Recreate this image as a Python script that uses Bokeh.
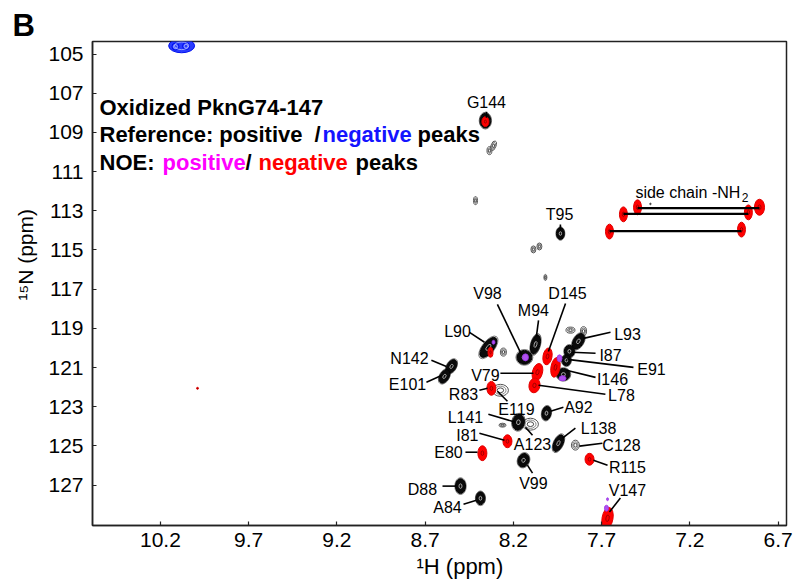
import numpy as np
from bokeh.plotting import figure
from bokeh.models import Range1d, FixedTicker, Label, ColumnDataSource, Title
from bokeh.embed import file_html
from bokeh.resources import INLINE
from bokeh.core.properties import value

FONT = "Liberation Sans"

# ---------------- axes -----------------
x_ticks = [10.2, 9.7, 9.2, 8.7, 8.2, 7.7, 7.2, 6.7]
y_ticks = [105, 107, 109, 111, 113, 115, 117, 119, 121, 123, 125, 127]

# ---------------- reference spectrum: strong positive peaks (black) ----------
pos_names = ["T95", "G144", "L90", "V98", "M94", "L93", "I87", "E91", "I146",
             "N142", "E101", "A92", "L141", "L138", "V99", "D88", "A84"]
pos_H = [7.934, 8.359, 8.342, 8.138, 8.075, 7.832, 7.883, 7.900, 7.917,
         8.551, 8.591, 8.013, 8.172, 7.945, 8.143, 8.500, 8.387]
pos_N = [114.16, 108.40, 119.97, 120.48, 119.82, 119.66, 120.17, 120.63, 121.35,
         120.94, 121.45, 123.33, 123.79, 124.86, 125.73, 127.05, 127.67]
pos_wH = [0.045, 0.062, 0.062, 0.085, 0.051, 0.057, 0.057, 0.051, 0.074,
          0.051, 0.051, 0.051, 0.068, 0.051, 0.062, 0.057, 0.051]
pos_wN = [0.61, 0.76, 1.22, 0.71, 1.02, 0.87, 0.61, 0.56, 0.61,
          0.76, 0.76, 0.71, 0.82, 0.92, 0.71, 0.76, 0.66]
pos_tilt = [0, 0, -38, 0, -15, -30, 0, 0, 0,
            -30, -30, -10, -10, -25, -20, 0, 0]

# ---------------- reference spectrum: weak positive peaks (grey contours) ----
weak_H = [8.274, 8.104, 7.849, 8.313, 8.336, 8.415, 8.087, 8.053, 8.019,
          8.257, 7.877, 7.803, 8.262, 7.424]
weak_N = [122.16, 123.89, 124.96, 109.68, 109.93, 112.48, 114.97, 114.82, 116.40,
          120.21, 119.09, 119.14, 123.94, 112.65]
weak_wH = [0.091, 0.091, 0.045, 0.028, 0.028, 0.023, 0.028, 0.028, 0.017,
           0.034, 0.051, 0.034, 0.040, 0.008]
weak_wN = [0.61, 0.61, 0.51, 0.51, 0.41, 0.41, 0.36, 0.36, 0.31,
           0.41, 0.31, 0.46, 0.20, 0.08]
weak_tilt = [0, 0, 0, -20, 0, 0, 0, 0, 0, 0, 0, 0, 0, 0]

# ---------------- reference spectrum: negative peaks (blue) ------------------
ref_neg_H = [10.080, 10.115, 10.055]
ref_neg_N = [104.58, 104.62, 104.60]
ref_neg_wH = [0.147, 0.040, 0.040]
ref_neg_wN = [0.71, 0.36, 0.36]

# ---------------- NOE spectrum: negative peaks (red) -------------------------
noe_neg_H = [8.359, 8.007, 8.064, 8.081, 7.962, 8.330, 8.325, 8.234, 8.376,
             7.769, 7.667, 7.497, 6.806, 7.577, 6.869, 7.656, 6.908, 9.990]
noe_neg_N = [108.45, 120.43, 121.24, 121.91, 120.99, 120.22, 122.06, 124.76, 125.37,
             125.68, 128.69, 112.82, 112.82, 113.18, 113.08, 114.06, 113.96, 122.06]
noe_neg_wH = [0.040, 0.051, 0.057, 0.062, 0.051, 0.028, 0.051, 0.051, 0.051,
              0.051, 0.062, 0.045, 0.057, 0.045, 0.045, 0.045, 0.045, 0.011]
noe_neg_wN = [0.51, 0.87, 0.92, 0.76, 1.02, 0.51, 0.71, 0.66, 0.76,
              0.61, 1.12, 0.76, 0.82, 0.76, 0.76, 0.76, 0.76, 0.10]
noe_neg_tilt = [0, -10, -15, -10, -10, 0, 0, 0, 0,
                0, -10, 0, 0, 0, 0, 0, 0, 0]

# ---------------- NOE spectrum: positive peaks (magenta) ---------------------
noe_pos_H = [8.132, 8.313, 7.939, 7.922, 7.673, 7.667]
noe_pos_N = [120.48, 119.71, 120.53, 121.55, 128.18, 127.72]
noe_pos_wH = [0.034, 0.017, 0.028, 0.040, 0.023, 0.011]
noe_pos_wN = [0.36, 0.20, 0.36, 0.26, 0.31, 0.15]

# ---------------- side-chain NH2 pairs ---------------------------------------
sc_H1 = [7.497, 7.577, 7.656]
sc_H2 = [6.806, 6.869, 6.908]
sc_N = [112.86, 113.16, 114.04]

# ---------------- assignment labels ------------------------------------------
lab_text = ["G144", "T95", "V98", "M94", "D145", "L90", "N142", "E101", "V79",
            "R83", "E119", "L78", "L93", "I87", "E91", "I146", "A92", "L141",
            "A123", "I81", "E80", "L138", "C128", "R115", "V99", "D88", "A84", "V147"]
lab_H = [8.353, 7.939, 8.347, 8.087, 7.894, 8.517, 8.789, 8.800, 8.359,
         8.483, 8.183, 7.588, 7.554, 7.650, 7.418, 7.639, 7.832, 8.472,
         8.092, 8.461, 8.568, 7.718, 7.588, 7.554, 8.087, 8.716, 8.574, 7.554]
lab_N = [107.48, 113.19, 117.21, 118.08, 117.21, 119.14, 120.53, 121.85, 121.39,
         122.36, 123.13, 122.41, 119.30, 120.37, 121.09, 121.60, 123.03, 123.54,
         124.92, 124.46, 125.32, 124.09, 124.96, 126.08, 126.90, 127.20, 128.12, 127.25]
lead_H0 = [8.353, 7.934, 8.291, 8.058, 7.905, 8.449, 8.665, 8.693, 8.274,
           8.393, 8.234, 7.679, 7.650, 7.735, 7.520, 7.735, 7.917, 8.342,
           8.092, 8.393, 8.472, 7.849, 7.696, 7.667, 8.092, 8.602, 8.483, 7.594]
lead_N0 = [107.94, 113.70, 117.78, 118.59, 117.73, 119.20, 120.63, 121.75, 121.29,
           122.16, 122.72, 122.36, 119.20, 120.27, 120.99, 121.50, 123.03, 123.38,
           124.45, 124.35, 125.32, 124.09, 124.86, 125.98, 126.39, 127.05, 127.97, 127.66]
lead_H1 = [8.353, 7.934, 8.155, 8.070, 8.002, 8.364, 8.580, 8.608, 8.087,
           8.347, 8.291, 8.058, 7.803, 7.871, 7.894, 7.900, 7.990, 8.189,
           8.132, 8.251, 8.404, 7.922, 7.826, 7.747, 8.121, 8.523, 8.410, 7.656]
lead_N1 = [108.25, 114.00, 120.33, 119.41, 120.18, 119.71, 120.94, 121.40, 121.29,
           122.06, 122.21, 121.90, 119.51, 120.22, 120.58, 121.14, 123.23, 123.79,
           124.05, 124.71, 125.32, 124.60, 125.01, 125.73, 125.98, 127.05, 127.77, 128.37]

# =============================================================================
p = figure(width=797, height=587, title=None,
           x_range=Range1d(10.585, 6.653), y_range=Range1d(129.06, 104.36),
           output_backend="svg", toolbar_location=None,
           min_border_left=92, min_border_right=11, min_border_top=41, min_border_bottom=62)
p.grid.visible = False
p.background_fill_color = "white"
p.border_fill_color = "white"
p.outline_line_color = "#222222"
p.outline_line_width = 1.5

p.xaxis.ticker = FixedTicker(ticks=x_ticks)
p.yaxis.ticker = FixedTicker(ticks=y_ticks)
for ax in (p.xaxis[0], p.yaxis[0]):
    ax.major_tick_in = 4
    ax.major_tick_out = 0
    ax.minor_tick_line_color = None
    ax.major_tick_line_color = "#222222"
    ax.major_tick_line_width = 1.2
    ax.axis_line_color = "#222222"
    ax.axis_line_width = 1.5
    ax.major_label_text_font = FONT
    ax.major_label_text_font_size = "21px"
    ax.major_label_text_color = "black"
p.xaxis.major_label_standoff = 7
p.yaxis.major_label_standoff = 9

# axis titles and panel letter as titles (so they sit outside the frame)
p.add_layout(Title(text="¹H (ppm)", align="left", offset=324, text_font=FONT,
                   text_font_size="22px", text_font_style="normal", text_color="black",
                   standoff=5), "below")
p.add_layout(Title(text="¹⁵N (ppm)", align="left", offset=225, text_font=FONT,
                   text_font_size="21px", text_font_style="normal", text_color="black",
                   standoff=18), "left")
p.add_layout(Title(text="B", align="left", offset=-80, text_font=FONT,
                   text_font_size="31px", text_font_style="bold", text_color="black",
                   standoff=-3), "above")


def ell(H, N, wH, wN, tilt=None, scale=1.0, **kw):
    if tilt is None:
        tilt = [0] * len(H)
    src = ColumnDataSource(dict(x=H, y=N, w=[w * scale for w in wH],
                                h=[h * scale for h in wN], a=tilt))
    p.ellipse(x="x", y="y", width="w", height="h", angle="a", angle_units="deg",
              source=src, **kw)


# blue negative reference peak (folded)
ell(ref_neg_H, ref_neg_N, ref_neg_wH, ref_neg_wN, scale=1.0,
    fill_color="#2a3cff", line_color="#0010ee", line_width=1)
ell(ref_neg_H, ref_neg_N, ref_neg_wH, ref_neg_wN, scale=0.55,
    fill_color=None, line_color="#b8c0ff", line_width=0.8)

# weak grey contour peaks
ell(weak_H, weak_N, weak_wH, weak_wN, weak_tilt, scale=1.0,
    fill_color=None, line_color="#555555", line_width=1.0)
ell(weak_H, weak_N, weak_wH, weak_wN, weak_tilt, scale=0.7,
    fill_color=None, line_color="#777777", line_width=0.9)
ell(weak_H, weak_N, weak_wH, weak_wN, weak_tilt, scale=0.4,
    fill_color=None, line_color="#333333", line_width=0.9)

# strong black reference peaks with a grey outer contour
ell(pos_H, pos_N, pos_wH, pos_wN, pos_tilt, scale=1.13,
    fill_color=None, line_color="#666666", line_width=0.9)
ell(pos_H, pos_N, pos_wH, pos_wN, pos_tilt, scale=1.0,
    fill_color="#0a0a0a", line_color="black", line_width=1)
ell(pos_H, pos_N, pos_wH, pos_wN, pos_tilt, scale=0.3,
    fill_color=None, line_color="#cccccc", line_width=0.8)

# NOE negative peaks (red)
ell(noe_neg_H, noe_neg_N, noe_neg_wH, noe_neg_wN, noe_neg_tilt, scale=1.0,
    fill_color="#ff0000", line_color="#e00000", line_width=1)
ell(noe_neg_H, noe_neg_N, noe_neg_wH, noe_neg_wN, noe_neg_tilt, scale=0.3,
    fill_color=None, line_color="#7a0000", line_width=0.7)

# NOE positive peaks (magenta)
ell(noe_pos_H, noe_pos_N, noe_pos_wH, noe_pos_wN, scale=1.0,
    fill_color="#b050f0", line_color="#9a33e6", line_width=0.8)

# side-chain NH2 connecting lines
p.segment(x0=sc_H1, y0=sc_N, x1=sc_H2, y1=sc_N, line_color="black", line_width=2.2)

# leader lines + assignment labels
p.segment(x0=lead_H0, y0=lead_N0, x1=lead_H1, y1=lead_N1, line_color="black", line_width=1.6)
p.text(x=lab_H, y=lab_N, text=lab_text, text_font=value(FONT), text_font_size="16px",
       text_align="center", text_baseline="middle", text_color="black")

# side chain annotation
p.text(x=[7.509], y=[112.07], text=["side chain -NH"], text_font=value(FONT),
       text_font_size="16px", text_align="left", text_baseline="alphabetic", text_color="black")
p.text(x=[6.906], y=[112.32], text=["2"], text_font=value(FONT),
       text_font_size="12px", text_align="left", text_baseline="alphabetic", text_color="black")


def lab(x, y, text, size, color="black", bold=False):
    p.add_layout(Label(x=x, y=y, x_units="screen", y_units="screen", text=text,
                       text_font=FONT, text_font_size=size, text_color=color,
                       text_font_style="bold" if bold else "normal",
                       text_align="left", text_baseline="alphabetic"))


# header text (frame-relative screen coords)
lab(7, 418, "Oxidized PknG74-147", "22px", bold=True)
lab(7, 391, "Reference: positive", "22px", bold=True)
lab(222, 391, "/", "22px", bold=True)
lab(230, 391, "negative", "22px", color="#1414ff", bold=True)
lab(325, 391, "peaks", "22px", bold=True)
lab(7, 363, "NOE:", "22px", bold=True)
lab(70, 363, "positive", "22px", color="#ff00ff", bold=True)
lab(153, 363, "/", "22px", bold=True)
lab(166, 363, "negative", "22px", color="#ff0000", bold=True)
lab(263, 363, "peaks", "22px", bold=True)

open("out.html", "w").write(file_html(p, INLINE))
